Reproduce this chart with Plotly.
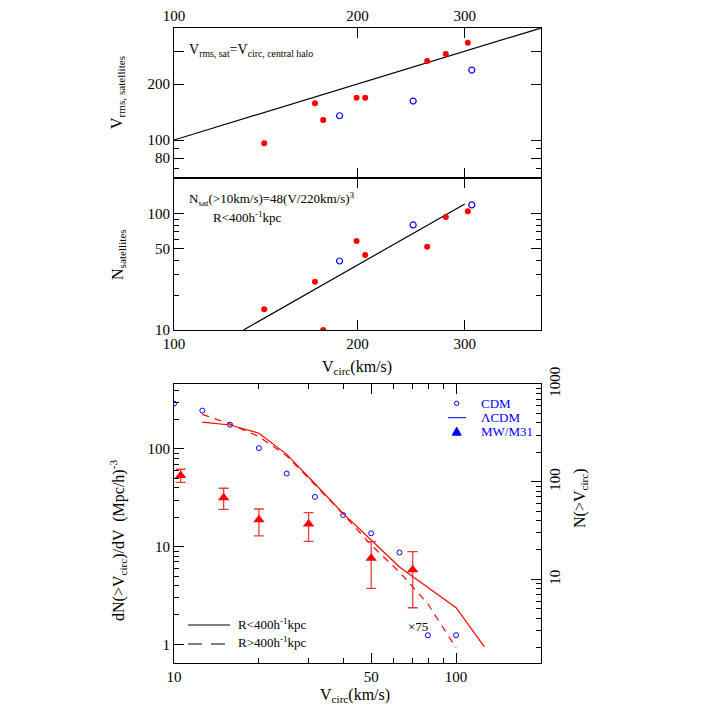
import plotly.graph_objects as go
import math

# ---------------- data ----------------
# top & middle panels (satellite systems)
vc_red = [140.6, 170.3, 175.7, 199.3, 205.9, 260.2, 279.2, 303.4]
vrms_red = [96, 157.5, 128, 168.8, 168.8, 266, 290, 333]
nsat_red = [15.1, 26.1, 10, 58.5, 44.3, 52.2, 94.2, 105.4]
vc_blue = [186.9, 246.8, 308]
vrms_blue = [135, 162, 237.7]
nsat_blue = [39.3, 80.4, 119.6]
ident_v = [100, 400]
ident_vrms = [100, 400]
fit_v = [130, 300]
fit_n = [10, 122]

# bottom panel
v_cdm = [10, 12.6, 15.8, 20, 25.1, 31.6, 39.8, 50, 63, 79.4, 100]
n_cdm = [291, 247, 177, 102, 56, 32.3, 21.1, 13.7, 8.7, 1.24, 1.24]
v_lcdm_in = [12.6, 15.8, 20, 25.1, 31.6, 39.8, 50, 63, 100, 126]
n_lcdm_in = [188, 176, 145, 88, 44, 21.8, 11.7, 6.2, 2.37, 0.94]
v_lcdm_out = [12.6, 15.8, 20, 25.1, 31.6, 39.8, 50, 63, 79.4, 100]
n_lcdm_out = [226, 180, 134, 85, 43, 21.5, 10.4, 5.5, 2.6, 0.92]
v_obs = [10.56, 15, 20, 30, 50, 70.2]
n_obs = [53.5, 31.7, 18.8, 17.1, 7.6, 5.8]
n_obs_hi = [62, 39.6, 24.3, 22.3, 11.25, 8.9]
n_obs_lo = [45.5, 24.1, 12.9, 11.3, 3.74, 2.37]

FONT = "Liberation Serif"
RED = "#ff0000"
BLUE = "#0000ff"

fig = go.Figure()

# bottom panel
fig.add_trace(go.Scatter(x=v_cdm, y=n_cdm, mode="markers", xaxis="x", yaxis="y",
                         marker=dict(symbol="circle-open", size=5, color=BLUE, line=dict(width=1, color=BLUE)),
                         showlegend=False))
fig.add_trace(go.Scatter(x=v_lcdm_in, y=n_lcdm_in, mode="lines", xaxis="x", yaxis="y",
                         line=dict(color=RED, width=1.2), showlegend=False))
fig.add_trace(go.Scatter(x=v_lcdm_out, y=n_lcdm_out, mode="lines", xaxis="x", yaxis="y",
                         line=dict(color=RED, width=1.2, dash="7px,6px"), showlegend=False))
fig.add_trace(go.Scatter(x=v_obs, y=n_obs, mode="markers", xaxis="x", yaxis="y",
                         marker=dict(symbol="triangle-up", size=10, color=RED),
                         error_y=dict(type="data", symmetric=False,
                                      array=[h - v for h, v in zip(n_obs_hi, n_obs)],
                                      arrayminus=[v - l for v, l in zip(n_obs, n_obs_lo)],
                                      color="#f03a3a", thickness=1.3, width=5),
                         showlegend=False))
# empty trace so that the right-hand N(>Vcirc) axis is built
fig.add_trace(go.Scatter(x=[], y=[], mode="markers", xaxis="x", yaxis="y2",
                         showlegend=False, hoverinfo="skip"))

# top panel
fig.add_trace(go.Scatter(x=ident_v, y=ident_vrms, mode="lines", xaxis="x3", yaxis="y3",
                         line=dict(color="black", width=1.2), showlegend=False))
fig.add_trace(go.Scatter(x=vc_red, y=vrms_red, mode="markers", xaxis="x3", yaxis="y3",
                         marker=dict(symbol="circle", size=6, color=RED), showlegend=False))
fig.add_trace(go.Scatter(x=vc_blue, y=vrms_blue, mode="markers", xaxis="x3", yaxis="y3",
                         marker=dict(symbol="circle-open", size=6, color=BLUE, line=dict(width=1.2, color=BLUE)),
                         showlegend=False))

# middle panel
fig.add_trace(go.Scatter(x=fit_v, y=fit_n, mode="lines", xaxis="x4", yaxis="y4",
                         line=dict(color="black", width=1.2), showlegend=False))
fig.add_trace(go.Scatter(x=vc_red, y=nsat_red, mode="markers", xaxis="x4", yaxis="y4",
                         marker=dict(symbol="circle", size=6, color=RED), showlegend=False))
fig.add_trace(go.Scatter(x=vc_blue, y=nsat_blue, mode="markers", xaxis="x4", yaxis="y4",
                         marker=dict(symbol="circle-open", size=6, color=BLUE, line=dict(width=1.2, color=BLUE)),
                         showlegend=False))

tickfont = dict(family=FONT, size=15, color="black")


def ax(**kw):
    base = dict(type="log", showgrid=False, zeroline=False, showline=True, linecolor="black",
                linewidth=1, ticks="inside", ticklen=10, tickwidth=1, tickcolor="black",
                tickfont=tickfont, mirror="ticks", tickmode="array", automargin=False)
    base.update(kw)
    return base


def minor(vals):
    return dict(ticks="inside", ticklen=5, tickwidth=1, tickcolor="black", tickvals=vals)


decades = [1, 10, 100, 1000]
digits = [2, 3, 4, 5, 6, 7, 8, 9]
minor_log = [d * m for d in decades for m in digits]

# page body has an 8px margin: target plot area is x 174..541, y 28..663 on screen
OFF = 8
L, R, T, B = 174 - OFF, 708 - 541 + OFF, 28 - OFF, 708 - 663 - OFF + 16
H_PLOT = 708 - T - B
W_PLOT = 708 - L - R


def px_x(px):
    return (px - OFF - L) / W_PLOT


def px_y(py):
    return (708 - B - (py - OFF)) / H_PLOT


P_T = px_y(28)
P_M_TOP = px_y(178)
P_M_BOT = px_y(330)
P_B = px_y(384)
P_0 = px_y(663)

fig.update_layout(
    template="none",
    width=708, height=708,
    margin=dict(l=L, r=R, t=T, b=B, autoexpand=False),
    paper_bgcolor="white", plot_bgcolor="white",
    font=dict(family=FONT, color="black"),
    xaxis=ax(domain=[0, 1], anchor="y", range=[1, math.log10(200)],
             tickvals=[10, 50, 100], ticktext=["10", "50", "100"],
             minor=minor([20, 30, 40, 60, 70, 80, 90])),
    yaxis=ax(domain=[P_0, P_B], anchor="x", range=[-0.191, 2.665], mirror=False,
             tickvals=[1, 10, 100], ticktext=["1", "10", "100"],
             minor=minor(minor_log)),
    yaxis2=ax(overlaying="y", side="right", anchor="x", range=[0.144, 3.0], mirror=False,
              tickvals=[10, 100, 1000], ticktext=["10", "100", "1000"], tickangle=-90,
              minor=minor(minor_log)),
    xaxis3=ax(domain=[0, 1], anchor="y3", side="top", range=[2, math.log10(400)],
              tickvals=[100, 200, 300], ticktext=["100", "200", "300"]),
    yaxis3=ax(domain=[P_M_TOP, P_T], anchor="x3", range=[math.log10(62.5), math.log10(400)],
              tickvals=[80, 100, 200, 300], ticktext=["80", "100", "200", ""],
              minor=minor([70, 90])),
    xaxis4=ax(domain=[0, 1], anchor="y4", side="bottom", range=[2, math.log10(400)],
              tickvals=[100, 200, 300], ticktext=["100", "200", "300"]),
    yaxis4=ax(domain=[P_M_BOT, P_M_TOP], anchor="x4", range=[1, math.log10(204)],
              tickvals=[10, 50, 100, 200], ticktext=["10", "50", "100", ""],
              minor=minor([20, 30, 40, 60, 70, 80, 90])),
)

anns = []


def text(t, x, y, size=14, color="black", xanchor="left", angle=0):
    anns.append(dict(text=t, x=px_x(x), y=px_y(y), xref="paper", yref="paper", showarrow=False,
                     xanchor=xanchor, yanchor="middle", textangle=angle,
                     font=dict(family=FONT, size=size, color=color)))


# axis titles
text("V<sub>rms, satellites</sub>", 117, 93, size=16, xanchor="center", angle=-90)
text("N<sub>satellites</sub>", 118, 255, size=16, xanchor="center", angle=-90)
text("dN(&gt;V<sub>circ</sub>)/dV  (Mpc/h)<sup>-3</sup>", 118, 541, size=16,
     xanchor="center", angle=-90)
text("N(&gt;V<sub>circ</sub>)", 580, 498, size=16, xanchor="center", angle=-90)
text("V<sub>circ</sub>(km/s)", 357, 368, size=16, xanchor="center")
text("V<sub>circ</sub>(km/s)", 355, 695, size=16, xanchor="center")

# panel notes
text("V<sub>rms, sat</sub>=V<sub>circ, central halo</sub>", 187, 50, size=14)
text("N<sub>sat</sub>(&gt;10km/s)=48(V/220km/s)<sup>3</sup>", 187, 199, size=13)
text("R&lt;400h<sup>-1</sup>kpc", 211, 217, size=13)

# legends (bottom panel)
text("CDM", 479, 403, size=13, color=BLUE)
text("ΛCDM", 479, 417.5, size=13, color=BLUE)
text("MW/M31", 479, 432, size=13, color=BLUE)
text("R&lt;400h<sup>-1</sup>kpc", 236, 624, size=13)
text("R&gt;400h<sup>-1</sup>kpc", 236, 642, size=13)
text("×75", 417.5, 626.5, size=13, xanchor="center")

fig.update_layout(annotations=anns)

shapes = [
    dict(type="circle", xref="paper", yref="paper", xsizemode="pixel", ysizemode="pixel",
         xanchor=px_x(456.7), yanchor=px_y(403.3), x0=-2.2, x1=2.2, y0=-2.2, y1=2.2,
         line=dict(color=BLUE, width=1)),
    dict(type="line", xref="paper", yref="paper", x0=px_x(448), x1=px_x(466),
         y0=px_y(417.7), y1=px_y(417.7), line=dict(color=BLUE, width=1)),
    dict(type="path", xref="paper", yref="paper", xsizemode="pixel", ysizemode="pixel",
         xanchor=px_x(456.7), yanchor=px_y(431.7), path="M -4.5,-3.5 L 4.5,-3.5 L 0,4.5 Z",
         fillcolor=BLUE, line=dict(color=BLUE, width=1)),
    dict(type="line", xref="paper", yref="paper", x0=px_x(188), x1=px_x(230),
         y0=px_y(625), y1=px_y(625), line=dict(color="black", width=1)),
    dict(type="line", xref="paper", yref="paper", x0=px_x(188), x1=px_x(230),
         y0=px_y(644), y1=px_y(644), line=dict(color="black", width=1, dash="14px,9px")),
]
fig.update_layout(shapes=shapes)

fig.write_html("out.html")
